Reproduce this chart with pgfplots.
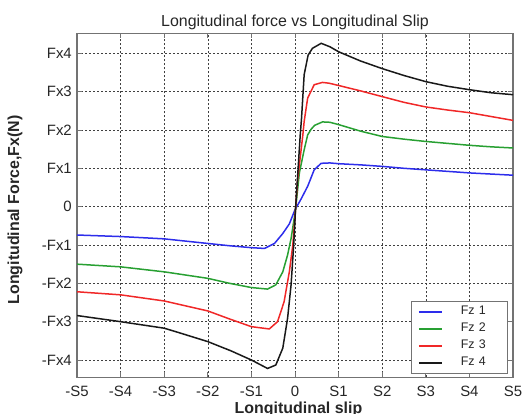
\documentclass[border=0pt]{standalone}
\usepackage{fontspec}
\setmainfont{Liberation Sans}
\usepackage{pgfplots}
\pgfplotsset{compat=1.18}

\definecolor{fzblue}{RGB}{45,45,235}
\definecolor{fzgreen}{RGB}{40,160,50}
\definecolor{fzred}{RGB}{240,40,40}
\definecolor{fzblack}{RGB}{25,25,25}

\begin{document}
\begin{tikzpicture}
\path[use as bounding box] (0,0) rectangle (522bp,414bp);
\begin{axis}[
    at={(77bp,36.5bp)}, anchor=south west,
    scale only axis, width=436bp, height=344bp,
    xmin=-5, xmax=5, ymin=-4.456, ymax=4.516,
    xtick={-5,...,5},
    xticklabels={-S5,-S4,-S3,-S2,-S1,0,S1,S2,S3,S4,S5},
    ytick={-4,...,4},
    yticklabels={-Fx4,-Fx3,-Fx2,-Fx1,0,Fx1,Fx2,Fx3,Fx4},
    grid=major,
    grid style={black!75, line width=0.6bp, dash pattern=on 2bp off 2bp},
    axis line style={black!55, line width=1.2bp},
    tick style={black!55, line width=0.8bp},
    tick align=inside, major tick length=5bp,
    ticklabel style={font=\fontsize{15}{18}\selectfont, text=black!85},
    xticklabel style={anchor=base, yshift=-18.5bp, inner sep=0pt},
    yticklabel style={anchor=east, xshift=-5bp, inner sep=0pt},
    title={Longitudinal force vs Longitudinal Slip},
    every axis title/.style={at={(axis description cs:0.5,1)}, anchor=base,
        yshift=7bp, inner sep=0pt, font=\fontsize{16}{19}\selectfont,
        text=black!85},
    xlabel={Longitudinal slip},
    xlabel style={at={(axis description cs:0.508,-0.1032)}, anchor=base,
        inner sep=0pt, font=\fontsize{16}{19}\selectfont\bfseries, text=black!85},
    ylabel={Longitudinal Force,Fx(N)},
    ylabel style={at={(axis description cs:-0.133,0.487)}, anchor=base,
        inner sep=0pt, font=\fontsize{16}{19}\selectfont\bfseries, text=black!85},
    legend style={at={(axis description cs:1,0)}, anchor=south east,
        xshift=-6bp, yshift=4bp, draw=black!55, fill=white,
        inner xsep=7bp, inner ysep=2bp, row sep=0pt,
        font=\fontsize{12.5}{15}\selectfont,
        nodes={inner xsep=0pt, inner ysep=2.5bp, text height=9bp, text depth=3bp,
            text width=39bp, align=left, text=black!85}},
    legend cell align=left,
    legend image code/.code={
        \draw[#1, line width=1.5bp] (0bp,0bp) -- (23bp,0bp);
        \path[draw=none, fill=none] (0bp,0bp) -- (42bp,0bp);},
    every axis plot/.append style={line width=1.5bp},
]

% Fz 1
\addplot[color=fzblue] coordinates {
(-5,-0.74) (-4,-0.78) (-3,-0.84) (-2,-0.96) (-1.5,-1.02) (-1,-1.07)
(-0.7,-1.09) (-0.47,-0.96) (-0.28,-0.70) (-0.13,-0.45) (0,-0.08)
(0.14,0.20) (0.29,0.53) (0.44,0.96) (0.6,1.13) (0.8,1.14) (1,1.12)
(1.5,1.09) (2,1.05) (2.5,1.00) (3,0.96) (3.5,0.92) (4,0.88) (4.5,0.85)
(5,0.82)
};
\addlegendentry{Fz 1}

% Fz 2
\addplot[color=fzgreen] coordinates {
(-5,-1.50) (-4,-1.57) (-3,-1.70) (-2,-1.87) (-1.5,-2.00) (-1,-2.11)
(-0.63,-2.15) (-0.44,-2.04) (-0.28,-1.70) (-0.17,-1.26) (-0.09,-0.83)
(0.01,-0.10) (0.1,0.88) (0.21,1.48) (0.29,1.87) (0.37,2.02) (0.45,2.12)
(0.63,2.21) (0.8,2.20) (1,2.14) (1.5,1.97) (2,1.83) (2.5,1.76) (3,1.70)
(3.5,1.65) (4,1.60) (4.5,1.56) (5,1.53)
};
\addlegendentry{Fz 2}

% Fz 3
\addplot[color=fzred] coordinates {
(-5,-2.22) (-4,-2.30) (-3,-2.46) (-2,-2.72) (-1.5,-2.93) (-1,-3.13)
(-0.59,-3.19) (-0.4,-3.00) (-0.25,-2.48) (-0.13,-1.70) (-0.05,-1.00)
(0.01,-0.10) (0.06,0.70) (0.18,1.87) (0.21,2.22) (0.29,2.83) (0.44,3.18)
(0.63,3.24) (0.78,3.22) (1,3.16) (1.5,3.02) (2,2.87) (2.5,2.72) (3,2.60)
(3.5,2.52) (4,2.45) (4.5,2.35) (5,2.25)
};
\addlegendentry{Fz 3}

% Fz 4
\addplot[color=fzblack] coordinates {
(-5,-2.84) (-4,-3.00) (-3,-3.17) (-2.68,-3.28) (-2,-3.52) (-1.47,-3.76)
(-1,-4.00) (-0.63,-4.22) (-0.44,-4.13) (-0.28,-3.69) (-0.17,-2.91)
(-0.09,-2.04) (-0.03,-1.00) (0.01,-0.10) (0.12,1.87) (0.15,2.31)
(0.21,3.44) (0.3,3.95) (0.4,4.13) (0.6,4.26) (0.8,4.17) (1,4.04)
(1.5,3.80) (2,3.60) (2.5,3.42) (3,3.26) (3.5,3.14) (4,3.05) (4.5,2.97)
(5,2.92)
};
\addlegendentry{Fz 4}

\end{axis}
\end{tikzpicture}
\end{document}
